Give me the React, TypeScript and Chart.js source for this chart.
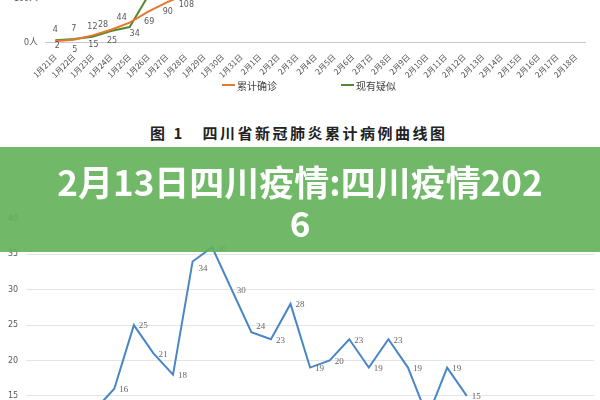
import React, { useEffect, useRef } from "react";
import { Chart, registerables } from "chart.js";

Chart.register(...registerables);

// ---------- data ----------
const dates = [
  "1月21日", "1月22日", "1月23日", "1月24日", "1月25日", "1月26日", "1月27日", "1月28日",
  "1月29日", "1月30日", "1月31日", "2月1日", "2月2日", "2月3日", "2月4日", "2月5日",
  "2月6日", "2月7日", "2月8日", "2月9日", "2月10日", "2月11日", "2月12日", "2月13日",
  "2月14日", "2月15日", "2月16日", "2月17日", "2月18日",
];
// top chart (图1) – only the part visible in the picture
const confirmedCum = [2, 5, 15, 28, 44, 69, 90, 108];
const suspectedNow = [4, 7, 12, 25, 34, 105];
const topTicks = [0, 100, 200];
const topUnit = "人";
const seriesNames = ["累计确诊", "现有疑似"];
const figureTitle = "图 1   四川省新冠肺炎累计病例曲线图";

// bottom chart – visible part only
const dailyValues = [
  null, null, null, 13, 16, 25, 21, 18, 34, 36, 30, 24, 23, 28, 19, 20,
  23, 19, 23, 19, 12, 19, 15, null, null, null, null, null, null,
];
const bottomTicks = [0, 5, 10, 15, 20, 25, 30, 35, 40];

const bannerLine1 = "2月13日四川疫情:四川疫情202";
const bannerLine2 = "6";

// label placement styles (not data)
const confirmedLabelPos = ["belowNear", "below", "below", "aboveLeft", "aboveLeft", "below", "below", "below"];
const suspectedLabelPos = ["above", "above", "above", "below", "belowRight", "above"];
const dailyLabelPos = dailyValues.map((_, i) => (i === 8 ? "rightLow" : i === 11 ? "rightHigh" : "right"));

const OFFSETS: Record<string, [number, number, CanvasTextAlign]> = {
  above: [0, -10, "center"],
  below: [1, 10, "center"],
  belowNear: [2, 5, "center"],
  aboveLeft: [-8, -5, "center"],
  belowRight: [5, 7, "center"],
  right: [5, 1, "left"],
  rightLow: [6, 7, "left"],
  rightHigh: [5, -6, "left"],
};

const pointLabels = {
  id: "pointLabels",
  afterDatasetsDraw(chart: any, _args: any, opts: any) {
    const ctx = chart.ctx;
    ctx.save();
    ctx.font = opts.font;
    ctx.fillStyle = opts.color;
    ctx.textBaseline = "middle";
    chart.data.datasets.forEach((ds: any, di: number) => {
      const meta = chart.getDatasetMeta(di);
      const pos = (opts.positions && opts.positions[di]) || [];
      meta.data.forEach((pt: any, i: number) => {
        const v = ds.data[i];
        if (v == null || pt.skip) return;
        const o = OFFSETS[pos[i] || "right"];
        ctx.textAlign = o[2];
        ctx.fillText(String(v), pt.x + o[0], pt.y + o[1]);
      });
    });
    ctx.restore();
  },
};

const TOP_CANVAS_Y = -60;
const TOP_CANVAS_H = 142;
const BOT_CANVAS_Y = 200;
const BOT_CANVAS_H = 320;

export default function App() {
  const topRef = useRef<HTMLCanvasElement>(null);
  const botRef = useRef<HTMLCanvasElement>(null);

  useEffect(() => {
    const top = new Chart(topRef.current!, {
      type: "line",
      data: {
        labels: dates,
        datasets: [
          {
            label: seriesNames[0],
            data: confirmedCum,
            borderColor: "#E8772E",
            borderWidth: 2,
            pointRadius: 0,
            tension: 0,
          },
          {
            label: seriesNames[1],
            data: suspectedNow,
            borderColor: "#55892F",
            borderWidth: 2,
            pointRadius: 0,
            tension: 0,
          },
        ],
      },
      options: {
        responsive: false,
        animation: false,
        events: [],
        layout: { padding: { top: 14, left: 6, right: 15, bottom: 0 } },
        plugins: {
          legend: { display: false },
          tooltip: { enabled: false },
          pointLabels: {
            font: "8px 'DejaVu Sans', sans-serif",
            color: "#595959",
            positions: [confirmedLabelPos, suspectedLabelPos],
          },
        } as any,
        scales: {
          x: {
            offset: true,
            grid: { display: false },
            border: { display: true, color: "#c9c9c9", width: 1 },
            afterFit: (s: any) => {
              s.height = 40;
            },
            ticks: {
              autoSkip: false,
              minRotation: 45,
              maxRotation: 45,
              padding: 2,
              color: "#4d4d4d",
              font: { size: 8, family: "'Noto Sans CJK SC', sans-serif" },
            },
          },
          y: {
            min: topTicks[0],
            max: topTicks[topTicks.length - 1],
            grid: { color: "#dedede", drawTicks: false },
            border: { display: false },
            ticks: {
              stepSize: topTicks[1] - topTicks[0],
              padding: 8,
              color: "#595959",
              font: { size: 9, family: "'Noto Sans CJK SC', sans-serif" },
              callback: (v: any) => v + topUnit,
            },
          },
        },
      },
      plugins: [pointLabels],
    });

    const bot = new Chart(botRef.current!, {
      type: "line",
      data: {
        labels: dates,
        datasets: [
          {
            label: "新增",
            data: dailyValues,
            borderColor: "#4A86C6",
            borderWidth: 2,
            pointRadius: 0,
            tension: 0,
          },
        ],
      },
      options: {
        responsive: false,
        animation: false,
        events: [],
        layout: { padding: { top: 19, left: 0, right: 6, bottom: 18 } },
        plugins: {
          legend: { display: false },
          tooltip: { enabled: false },
          pointLabels: {
            font: "9px 'Liberation Serif', 'DejaVu Serif', serif",
            color: "#666666",
            positions: [dailyLabelPos],
          },
        } as any,
        scales: {
          x: { display: false, offset: true },
          y: {
            min: bottomTicks[0],
            max: bottomTicks[bottomTicks.length - 1],
            grid: { color: "#e4e4e4", drawTicks: false },
            border: { display: false },
            ticks: {
              stepSize: bottomTicks[1] - bottomTicks[0],
              padding: 8,
              color: "#595959",
              font: { size: 8, family: "'DejaVu Sans', sans-serif" },
            },
          },
        },
      },
      plugins: [pointLabels],
    });

    return () => {
      top.destroy();
      bot.destroy();
    };
  }, []);

  const legendItem = (color: string, text: string, left: number) => (
    <div
      style={{
        position: "absolute",
        left,
        top: 78,
        height: 14,
        display: "flex",
        alignItems: "center",
        fontFamily: "'Noto Sans CJK SC', sans-serif",
        fontSize: 10,
        color: "#404040",
        whiteSpace: "nowrap",
      }}
    >
      <span style={{ display: "inline-block", width: 13, height: 2, background: color, marginRight: 2 }} />
      <span>{text}</span>
    </div>
  );

  return (
    <div
      style={{
        position: "fixed",
        left: 0,
        top: 0,
        width: 600,
        height: 400,
        overflow: "hidden",
        background: "#ffffff",
      }}
    >
      <canvas
        ref={topRef}
        width={600}
        height={TOP_CANVAS_H}
        style={{ position: "absolute", left: 0, top: TOP_CANVAS_Y, width: 600, height: TOP_CANVAS_H }}
      />
      {legendItem("#E8772E", seriesNames[0], 222)}
      {legendItem("#55892F", seriesNames[1], 341)}
      <div
        style={{
          position: "absolute",
          left: 150,
          top: 123,
          fontFamily: "'Noto Sans CJK SC', sans-serif",
          fontWeight: 700,
          fontSize: 15,
          lineHeight: "20px",
          letterSpacing: 2.5,
          color: "#222222",
          whiteSpace: "pre",
        }}
      >
        {figureTitle}
      </div>
      <canvas
        ref={botRef}
        width={600}
        height={BOT_CANVAS_H}
        style={{ position: "absolute", left: 0, top: BOT_CANVAS_Y, width: 600, height: BOT_CANVAS_H }}
      />
      <div
        style={{
          position: "absolute",
          left: 0,
          top: 147,
          width: 600,
          height: 105,
          background: "rgba(98,176,89,0.9)",
          color: "#ffffff",
          fontFamily: "'Noto Sans CJK SC', sans-serif",
          fontWeight: 700,
          fontSize: 35,
          lineHeight: "41px",
          textAlign: "center",
          paddingTop: 13,
          boxSizing: "border-box",
        }}
      >
        <div>{bannerLine1}</div>
        <div>{bannerLine2}</div>
      </div>
    </div>
  );
}
